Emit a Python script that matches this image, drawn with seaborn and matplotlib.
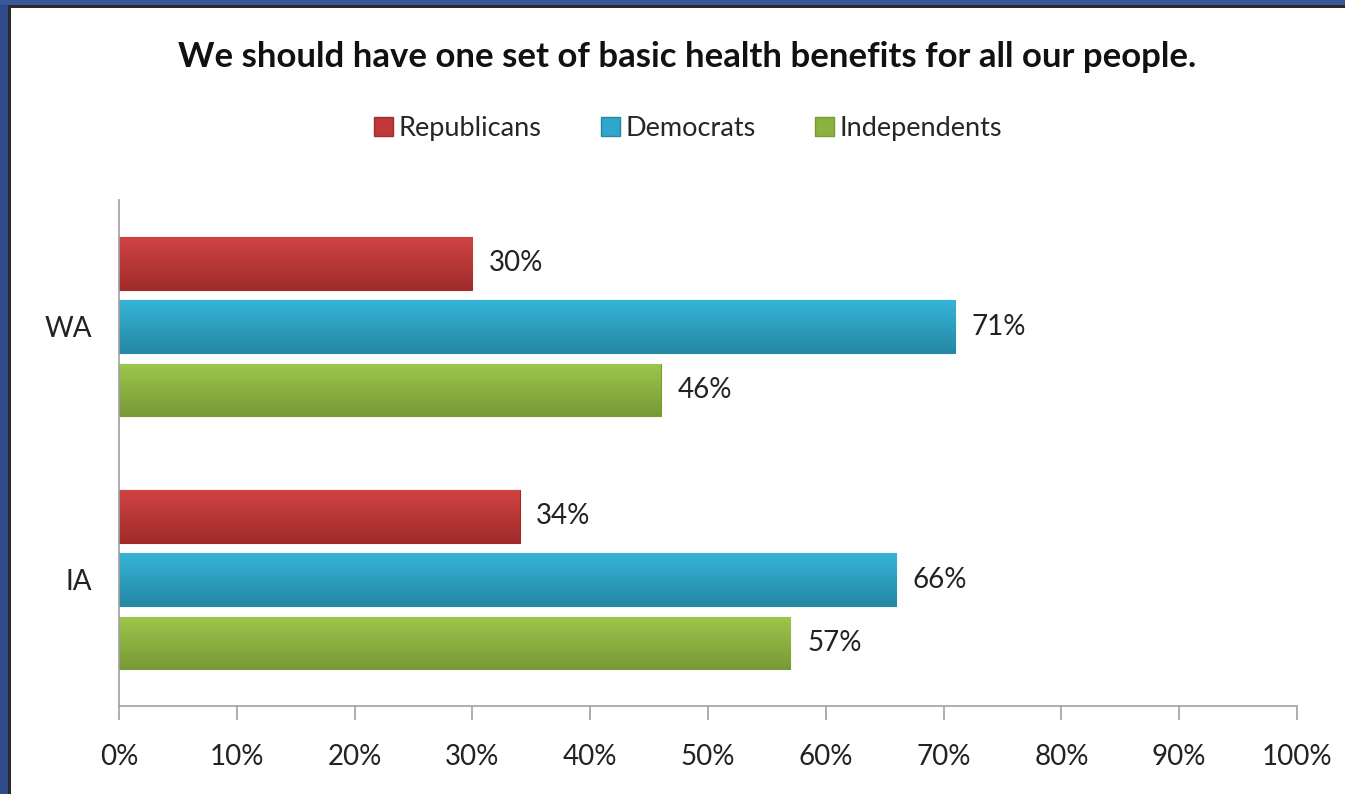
import numpy as np
import pandas as pd
import matplotlib
matplotlib.use("Agg")
import matplotlib.pyplot as plt
import seaborn as sns
from matplotlib.patches import Rectangle
from matplotlib.colors import LinearSegmentedColormap
from matplotlib.ticker import PercentFormatter

states = ["WA", "IA"]
parties = ["Republicans", "Democrats", "Independents"]
republicans = [30, 34]
democrats = [71, 66]
independents = [46, 57]
xticks = list(range(0, 101, 10))

title = "We should have one set of basic health benefits for all our people."
colors = {"Republicans": "#C0393A", "Democrats": "#2FA7CA", "Independents": "#8BB23F"}
grad = {
    "Republicans": ("#CF4342", "#A12B2B"),
    "Democrats": ("#35B4D8", "#2688A3"),
    "Independents": ("#9CC64B", "#789A36"),
}

df = pd.DataFrame({
    "state": np.repeat(states, 3),
    "party": parties * len(states),
    "value": [v for trio in zip(republicans, democrats, independents) for v in trio],
})

sns.set_theme(style="white")
plt.rcParams["font.family"] = ["Lato", "DejaVu Sans"]

fig = plt.figure(figsize=(13.45, 7.94), dpi=100)
ax = fig.add_axes([0.0885, 0.1108, 0.9643 - 0.0885, 0.748 - 0.1108])

sns.barplot(data=df, y="state", x="value", hue="party", hue_order=parties,
            order=states, orient="h", palette=colors, width=0.75, gap=0.17,
            ax=ax, legend=True, saturation=1)

# gradient fill on bars
for container, party in zip(ax.containers, parties):
    cmap = LinearSegmentedColormap.from_list(party, [grad[party][0], grad[party][1]])
    for bar, val in zip(container, container.datavalues):
        x0, y0 = bar.get_x(), bar.get_y()
        w, h = bar.get_width(), bar.get_height()
        bar.set_edgecolor(grad[party][1])
        bar.set_linewidth(0.8)
        img = ax.imshow(np.linspace(0, 1, 64).reshape(-1, 1), cmap=cmap, aspect="auto",
                        extent=(x0, x0 + w, y0 + h, y0), zorder=bar.get_zorder() + 0.1,
                        interpolation="bilinear")
        img.set_clip_path(bar)
        ax.text(val + 1.4, y0 + h / 2, f"{val:.0f}%", va="center", ha="left",
                fontsize=20, color="#222222")

ax.set_xlim(0, 100)
ax.set_ylim(1.5, -0.5)
ax.set_xticks(xticks)
ax.xaxis.set_major_formatter(PercentFormatter(decimals=0))
ax.set_xlabel("")
ax.set_ylabel("")
for s in ["top", "right"]:
    ax.spines[s].set_visible(False)
for s in ["left", "bottom"]:
    ax.spines[s].set_color("#A0A0A0")
    ax.spines[s].set_linewidth(1.2)
ax.tick_params(axis="x", which="major", length=10, width=1.2, color="#A0A0A0",
               direction="out", pad=17, labelsize=20, labelcolor="#222222", bottom=True)
ax.tick_params(axis="y", length=0, pad=19.5, labelsize=20, labelcolor="#222222")

leg = ax.legend(loc="center", bbox_to_anchor=(0.5115, 0.838), bbox_transform=fig.transFigure,
                ncol=3, frameon=False, fontsize=19.5, handlelength=0.7, handleheight=0.7,
                handletextpad=0.2, columnspacing=2.2)
for h, party in zip(leg.legend_handles, parties):
    h.set_facecolor(colors[party])
    h.set_edgecolor(grad[party][1])

fig.text(0.511, 0.928, title, ha="center", va="center", fontsize=25,
         fontweight="bold", color="#111111")

# slide frame (blue background edges and dark border)
fig.patches.append(Rectangle((0, 0), 8 / 1345, 1, transform=fig.transFigure,
                             facecolor="#2F4A8A", edgecolor="none", zorder=5))
fig.patches.append(Rectangle((0, 1 - 5 / 794), 1, 5 / 794, transform=fig.transFigure,
                             facecolor="#3A579A", edgecolor="none", zorder=5))
fig.patches.append(Rectangle((8 / 1345, 0), 3 / 1345, 1 - 5 / 794, transform=fig.transFigure,
                             facecolor="#2A2A2A", edgecolor="none", zorder=5))
fig.patches.append(Rectangle((8 / 1345, 1 - 8 / 794), 1, 3 / 794, transform=fig.transFigure,
                             facecolor="#2A2A2A", edgecolor="none", zorder=5))

fig.savefig("out.png", dpi=100)
